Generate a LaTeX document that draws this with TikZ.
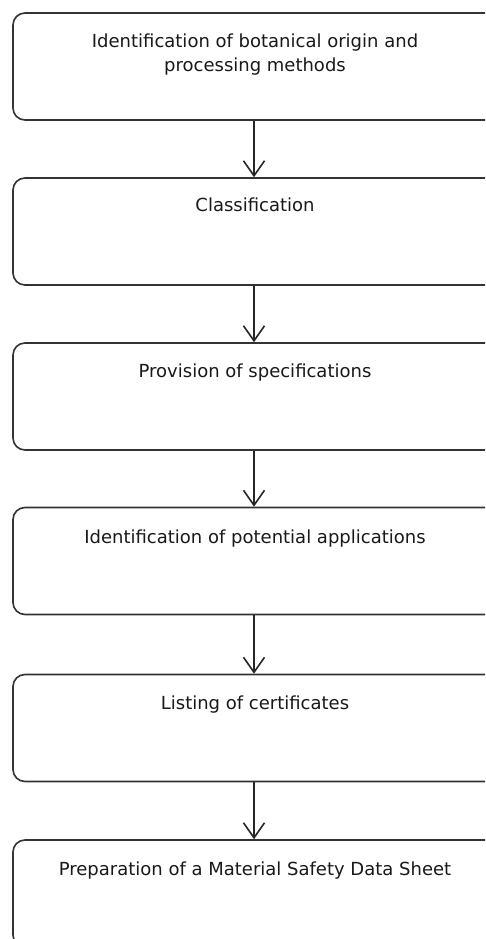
\documentclass[tikz,border=0pt]{standalone}
\usepackage{fontspec}
\setmainfont{DejaVu Sans}
\usetikzlibrary{arrows.meta}
\begin{document}
\begin{tikzpicture}[x=1pt,y=-1pt,
  box/.style={draw=black!80,line width=1.6pt,rounded corners=12pt,minimum width=484pt,minimum height=107pt,inner sep=0pt},
  lbl/.style={anchor=base,align=center,font=\fontsize{18}{23.5}\selectfont,text=black!90,inner sep=0pt},
  conn/.style={draw=black!85,line width=1.6pt,-{Straight Barb[length=15pt,width=21pt,line width=1.6pt]}}]
\useasboundingbox (0,0) rectangle (485,939);
\clip (0,0) rectangle (485,939);
\fill[white] (0,0) rectangle (485,939);
\node[box] (b1) at (255,66.5) {};
\node[box] (b2) at (255,231.5) {};
\node[box] (b3) at (255,396.5) {};
\node[box] (b4) at (255,561) {};
\node[box] (b5) at (255,728) {};
\node[box] (b6) at (255,893.5) {};
\node[lbl] (t1) at (255,71.5) {Identification of botanical origin and\\processing methods};
\node[lbl] (t2) at (255,211) {Classification};
\node[lbl] (t3) at (255,377) {Provision of specifications};
\node[lbl] (t4) at (255,543) {Identification of potential applications};
\node[lbl] (t5) at (255,709) {Listing of certificates};
\node[lbl] (t6) at (255,875) {Preparation of a Material Safety Data Sheet};
\coordinate (ax) at (254,0);
\draw[conn] (b1.south -| ax) -- (b2.north -| ax);
\draw[conn] (b2.south -| ax) -- (b3.north -| ax);
\draw[conn] (b3.south -| ax) -- (b4.north -| ax);
\draw[conn] (b4.south -| ax) -- (b5.north -| ax);
\draw[conn] (b5.south -| ax) -- (b6.north -| ax);
\end{tikzpicture}
\end{document}
